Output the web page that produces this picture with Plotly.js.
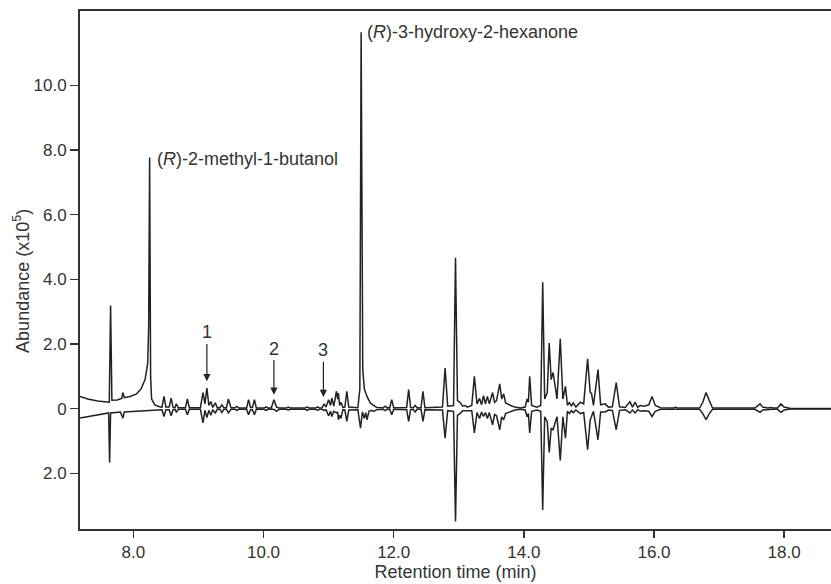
<!DOCTYPE html>
<html>
<head>
<meta charset="utf-8">
<script src="https://cdn.plot.ly/plotly-3.0.1.min.js"></script>
<style>html,body{margin:0;padding:0;background:#fff;}#chart{width:831px;height:584px;}</style>
</head>
<body>
<div id="chart"></div>
<script>
// Retention time (min) and abundance (x10^5)
var upperTime = [7.18,7.30,7.45,7.60,7.63,7.65,7.67,7.75,7.82,7.84,7.86,7.95,8.05,8.12,8.18,8.22,8.235,8.25,8.265,8.28,8.33,8.40,8.44,8.47,8.50,8.55,8.58,8.61,8.64,8.66,8.69,8.80,8.83,8.86,9.03,9.07,9.10,9.13,9.16,9.19,9.22,9.26,9.29,9.33,9.36,9.39,9.43,9.46,9.50,9.56,9.59,9.62,9.74,9.77,9.80,9.83,9.86,9.89,10.01,10.04,10.07,10.12,10.16,10.20,10.24,10.35,10.38,10.41,10.45,10.48,10.51,10.64,10.67,10.70,10.80,10.83,10.86,10.90,10.93,10.96,11.00,11.03,11.05,11.08,11.12,11.14,11.15,11.17,11.19,11.22,11.25,11.28,11.31,11.45,11.48,11.50,11.525,11.55,11.59,11.64,11.69,11.74,11.84,11.87,11.90,11.94,11.97,12.00,12.20,12.23,12.26,12.30,12.33,12.36,12.42,12.45,12.48,12.75,12.79,12.83,12.92,12.95,12.98,13.02,13.06,13.10,13.13,13.20,13.24,13.28,13.32,13.35,13.38,13.41,13.44,13.47,13.52,13.55,13.58,13.63,13.66,13.69,13.72,13.76,13.80,13.86,13.95,14.02,14.05,14.07,14.09,14.12,14.20,14.26,14.29,14.32,14.36,14.39,14.42,14.45,14.48,14.51,14.56,14.60,14.64,14.67,14.70,14.73,14.76,14.80,14.87,14.92,14.98,15.02,15.04,15.07,15.14,15.18,15.25,15.30,15.36,15.42,15.47,15.56,15.63,15.67,15.71,15.75,15.79,15.85,15.92,15.97,16.02,16.10,16.30,16.33,16.36,16.70,16.75,16.80,16.85,16.90,17.55,17.60,17.63,17.67,17.75,17.79,17.83,17.90,17.95,18.00,18.10,18.72];
var upperAbund = [0.38,0.30,0.24,0.19,0.20,3.19,0.26,0.27,0.32,0.50,0.34,0.38,0.46,0.62,0.90,1.40,2.5,7.77,1.0,0.30,0.12,0.06,0.05,0.38,0.05,0.05,0.33,0.04,0.04,0.15,0.03,0.03,0.30,0.03,0.03,0.50,0.15,0.64,0.10,0.22,0.04,0.18,0.03,0.03,0.12,0.03,0.03,0.30,0.03,0.03,0.07,0.02,0.02,0.28,0.04,0.04,0.28,0.02,0.02,0.06,0.02,0.02,0.28,0.05,0.02,0.02,0.05,0.02,0.02,0.04,0.02,0.02,0.06,0.02,0.02,0.06,0.02,0.03,0.15,0.05,0.28,0.10,0.33,0.08,0.54,0.30,0.48,0.10,0.20,0.04,0.05,0.54,0.05,0.03,0.6,11.64,1.2,0.61,0.38,0.18,0.10,0.04,0.03,0.08,0.03,0.03,0.28,0.03,0.04,0.59,0.04,0.03,0.10,0.03,0.03,0.54,0.03,0.05,1.26,0.08,0.10,4.67,0.25,0.20,0.08,0.10,0.05,0.10,1.00,0.15,0.32,0.12,0.40,0.15,0.38,0.15,0.50,0.20,0.25,0.77,0.30,0.46,0.18,0.15,0.10,0.05,0.02,0.05,0.30,0.20,1.00,0.10,0.05,0.1,3.91,0.3,0.5,2.03,0.9,1.12,0.74,0.30,2.16,0.3,0.69,0.10,0.20,0.08,0.18,0.05,0.20,0.15,1.54,0.50,0.48,0.10,1.21,0.12,0.15,0.05,0.06,0.81,0.06,0.04,0.22,0.05,0.20,0.04,0.10,0.08,0.12,0.38,0.10,0.03,0.02,0.05,0.02,0.02,0.20,0.50,0.25,0.02,0.02,0.12,0.15,0.05,0.02,0.04,0.02,0.02,0.15,0.05,0.01,0.01];

var lowerTime = [7.18,7.35,7.50,7.62,7.635,7.65,7.80,7.84,7.86,8.00,8.30,8.44,8.47,8.50,8.55,8.58,8.61,8.64,8.66,8.69,8.80,8.83,8.86,9.03,9.07,9.10,9.13,9.16,9.19,9.22,9.26,9.29,9.33,9.36,9.39,9.43,9.46,9.50,9.56,9.59,9.62,9.74,9.77,9.80,9.83,9.86,9.89,10.01,10.04,10.07,10.14,10.17,10.20,10.24,10.35,10.38,10.41,10.45,10.48,10.51,10.64,10.67,10.70,10.80,10.83,10.86,10.90,10.93,10.96,11.00,11.03,11.05,11.08,11.12,11.14,11.15,11.17,11.19,11.22,11.25,11.28,11.31,11.45,11.49,11.52,11.55,11.57,11.59,11.62,11.66,11.69,11.74,11.84,11.87,11.90,11.94,11.97,12.00,12.20,12.23,12.26,12.30,12.33,12.36,12.42,12.45,12.48,12.75,12.79,12.83,12.92,12.95,12.98,13.02,13.06,13.20,13.24,13.28,13.32,13.35,13.38,13.41,13.44,13.47,13.52,13.55,13.58,13.63,13.66,13.69,13.72,13.76,13.80,13.86,13.95,14.02,14.05,14.07,14.09,14.12,14.20,14.26,14.29,14.32,14.36,14.39,14.42,14.45,14.48,14.51,14.56,14.60,14.64,14.67,14.70,14.73,14.76,14.80,14.87,14.92,14.98,15.02,15.07,15.14,15.18,15.25,15.30,15.36,15.42,15.47,15.56,15.63,15.67,15.71,15.75,15.79,15.85,15.92,15.97,16.02,16.10,16.30,16.33,16.36,16.70,16.75,16.80,16.85,16.90,17.55,17.60,17.63,17.67,17.75,17.79,17.83,17.90,17.95,18.00,18.10,18.72];
var lowerAbund = [-0.29,-0.22,-0.16,-0.13,-1.66,-0.13,-0.10,-0.29,-0.10,-0.08,-0.04,-0.03,-0.24,-0.03,-0.03,-0.22,-0.03,-0.02,-0.11,-0.02,-0.02,-0.19,-0.02,-0.02,-0.44,-0.05,-0.27,-0.05,-0.20,-0.03,-0.13,-0.02,-0.02,-0.12,-0.02,-0.02,-0.13,-0.02,-0.02,-0.05,-0.02,-0.02,-0.19,-0.03,-0.03,-0.19,-0.02,-0.02,-0.05,-0.02,-0.02,-0.03,-0.08,-0.02,-0.02,-0.04,-0.02,-0.02,-0.03,-0.02,-0.02,-0.05,-0.02,-0.02,-0.05,-0.02,-0.02,-0.05,-0.03,-0.22,-0.08,-0.24,-0.08,-0.13,-0.10,-0.34,-0.20,-0.30,-0.03,-0.04,-0.39,-0.04,-0.03,-0.60,-0.10,-0.30,-0.12,-0.34,-0.08,-0.05,-0.08,-0.03,-0.02,-0.06,-0.02,-0.02,-0.19,-0.02,-0.03,-0.39,-0.03,-0.02,-0.10,-0.02,-0.02,-0.39,-0.03,-0.04,-0.91,-0.06,-0.08,-3.49,-0.20,-0.15,-0.06,-0.06,-0.75,-0.12,-0.30,-0.10,-0.24,-0.12,-0.30,-0.12,-0.50,-0.18,-0.22,-0.65,-0.25,-0.34,-0.15,-0.12,-0.08,-0.04,-0.02,-0.04,-0.25,-0.15,-0.75,-0.08,-0.04,-0.08,-3.13,-0.25,-0.4,-1.35,-0.6,-0.65,-0.44,-0.25,-1.60,-0.25,-0.91,-0.08,-0.15,-0.06,-0.12,-0.04,-0.15,-0.12,-1.27,-0.35,-0.08,-0.96,-0.10,-0.10,-0.04,-0.05,-0.65,-0.05,-0.03,-0.13,-0.04,-0.13,-0.03,-0.08,-0.06,-0.08,-0.24,-0.08,-0.02,-0.02,-0.04,-0.02,-0.02,-0.15,-0.34,-0.15,-0.02,-0.02,-0.09,-0.11,-0.04,-0.02,-0.03,-0.02,-0.02,-0.11,-0.04,-0.01,-0.01];

var xTickVals = [8,10,12,14,16,18];
var xTickText = ["8.0","10.0","12.0","14.0","16.0","18.0"];
var yTickVals = [-2,0,2,4,6,8,10];
var yTickText = ["2.0","0","2.0","4.0","6.0","8.0","10.0"];
var xTitle = 'Retention time (min)';
var yTitle = 'Abundance (x10<sup>5</sup>)';

var peakLabels = ["(<i>R</i>)-2-methyl-1-butanol","(<i>R</i>)-3-hydroxy-2-hexanone"];
var peakLabelX = [8.34, 11.56];
var peakLabelY = [7.71, 11.64];
var arrowLabels = ["1","2","3"];
var arrowX = [9.13, 10.16, 10.92];
var arrowTipY = [0.85, 0.43, 0.36];
var arrowTextY = [2.36, 1.86, 1.81];

var FONT = '"Liberation Sans", Arial, sans-serif';
var INK = '#222';
var TXT = '#333';

var traces = [
  {x: upperTime, y: upperAbund, mode: 'lines', line: {color: INK, width: 1.5}, hoverinfo: 'skip'},
  {x: lowerTime, y: lowerAbund, mode: 'lines', line: {color: INK, width: 1.5}, hoverinfo: 'skip'}
];

var annotations = [];
for (var i = 0; i < peakLabels.length; i++) {
  annotations.push({x: peakLabelX[i], y: peakLabelY[i], xref: 'x', yref: 'y', text: peakLabels[i],
    showarrow: false, xanchor: 'left', yanchor: 'middle', font: {family: FONT, size: 18, color: TXT}});
}
for (var j = 0; j < arrowLabels.length; j++) {
  annotations.push({x: arrowX[j], y: arrowTipY[j], xref: 'x', yref: 'y', text: arrowLabels[j],
    showarrow: true, axref: 'x', ayref: 'y', ax: arrowX[j], ay: arrowTextY[j],
    arrowhead: 2, arrowsize: 1.2, arrowwidth: 1.2, arrowcolor: INK, standoff: 0, startstandoff: 0,
    font: {family: FONT, size: 18, color: TXT}});
}
// y-axis title placed as rotated paper text to match the reference position
annotations.push({xref: 'paper', yref: 'paper', x: -0.0772, y: 0.479, text: yTitle, textangle: -90,
  showarrow: false, xanchor: 'center', yanchor: 'middle', font: {family: FONT, size: 18, color: TXT}});

var layout = {
  width: 831, height: 584,
  margin: {l: 80, r: 0, t: 11, b: 55},
  paper_bgcolor: '#fff', plot_bgcolor: '#fff',
  showlegend: false,
  font: {family: FONT, size: 17, color: TXT},
  xaxis: {range: [7.18, 18.72], tickvals: xTickVals, ticktext: xTickText,
    showline: true, mirror: true, linecolor: '#333', linewidth: 2,
    ticks: 'outside', ticklen: 7, tickwidth: 1.5, tickcolor: '#333',
    showgrid: false, zeroline: false, automargin: false,
    tickfont: {family: FONT, size: 17, color: TXT},
    title: {text: xTitle, font: {family: FONT, size: 18, color: TXT}, standoff: 2}},
  yaxis: {range: [-3.72, 12.3], tickvals: yTickVals, ticktext: yTickText,
    showline: true, linecolor: '#333', linewidth: 2,
    ticks: 'outside', ticklen: 8, tickwidth: 1.5, tickcolor: '#333',
    showgrid: false, zeroline: false, automargin: false,
    tickfont: {family: FONT, size: 17, color: TXT}},
  annotations: annotations
};

Plotly.newPlot('chart', traces, layout, {staticPlot: true, displayModeBar: false});
</script>
</body>
</html>
